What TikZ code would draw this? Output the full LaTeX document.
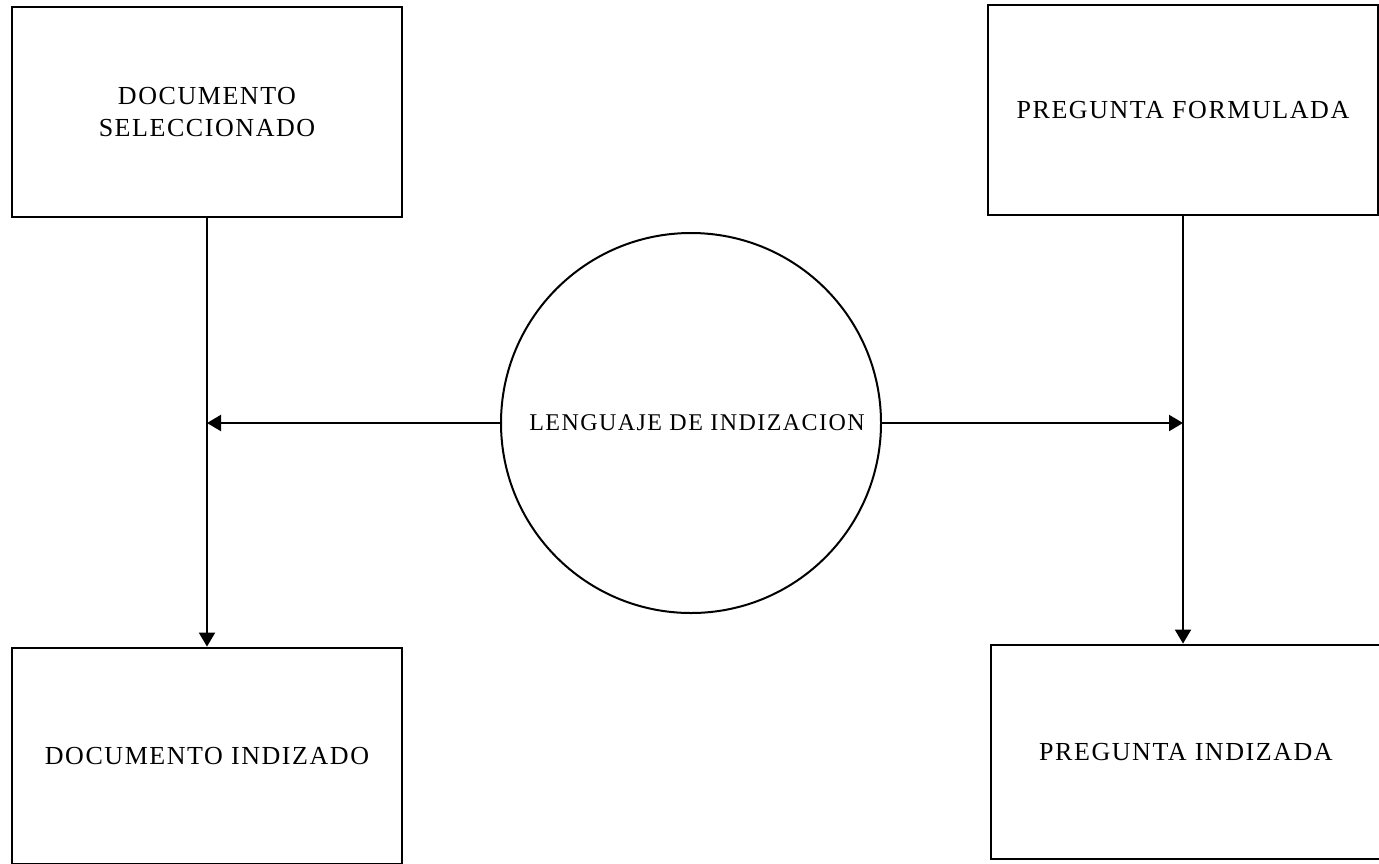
\documentclass[tikz,border=0pt]{standalone}
\usepackage{fontspec}
\setmainfont{Liberation Serif}[LetterSpace=6]
\usetikzlibrary{arrows.meta}

\begin{document}
\begin{tikzpicture}[x=0.5pt,y=-0.5pt,
  caja/.style={draw,line width=1.4pt,minimum width=195pt,minimum height=105pt,
    align=center,font=\fontsize{13}{16}\selectfont},
  flecha/.style={line width=1pt,-{Triangle[length=7pt,width=8pt]}}]
  \useasboundingbox (0,0) rectangle (1379,863);
  \node[caja] (docsel) at (207,112) {DOCUMENTO\\SELECCIONADO};
  \node[caja] (pregform) at (1183,110) {PREGUNTA FORMULADA};
  \node[caja,minimum height=108pt] (docind) at (207,756) {DOCUMENTO INDIZADO};
  \node[caja,minimum height=107pt] (pregind) at (1186,752) {PREGUNTA INDIZADA};
  \node[draw,circle,line width=1pt,minimum size=190pt,inner sep=0pt,
    font=\fontsize{12}{15}\selectfont] (lengua) at (691,423) {\hspace*{6pt}LENGUAJE DE INDIZACION};
  \coordinate (cruceizq) at (docsel.south |- lengua.west);
  \coordinate (cruceder) at (pregform.south |- lengua.east);
  \draw[flecha] (docsel.south) -- (docind.north);
  \draw[flecha] (pregform.south) -- (pregind.north -| pregform.south);
  \draw[flecha] (lengua.west) -- (cruceizq);
  \draw[flecha] (lengua.east) -- (cruceder);
\end{tikzpicture}
\end{document}
